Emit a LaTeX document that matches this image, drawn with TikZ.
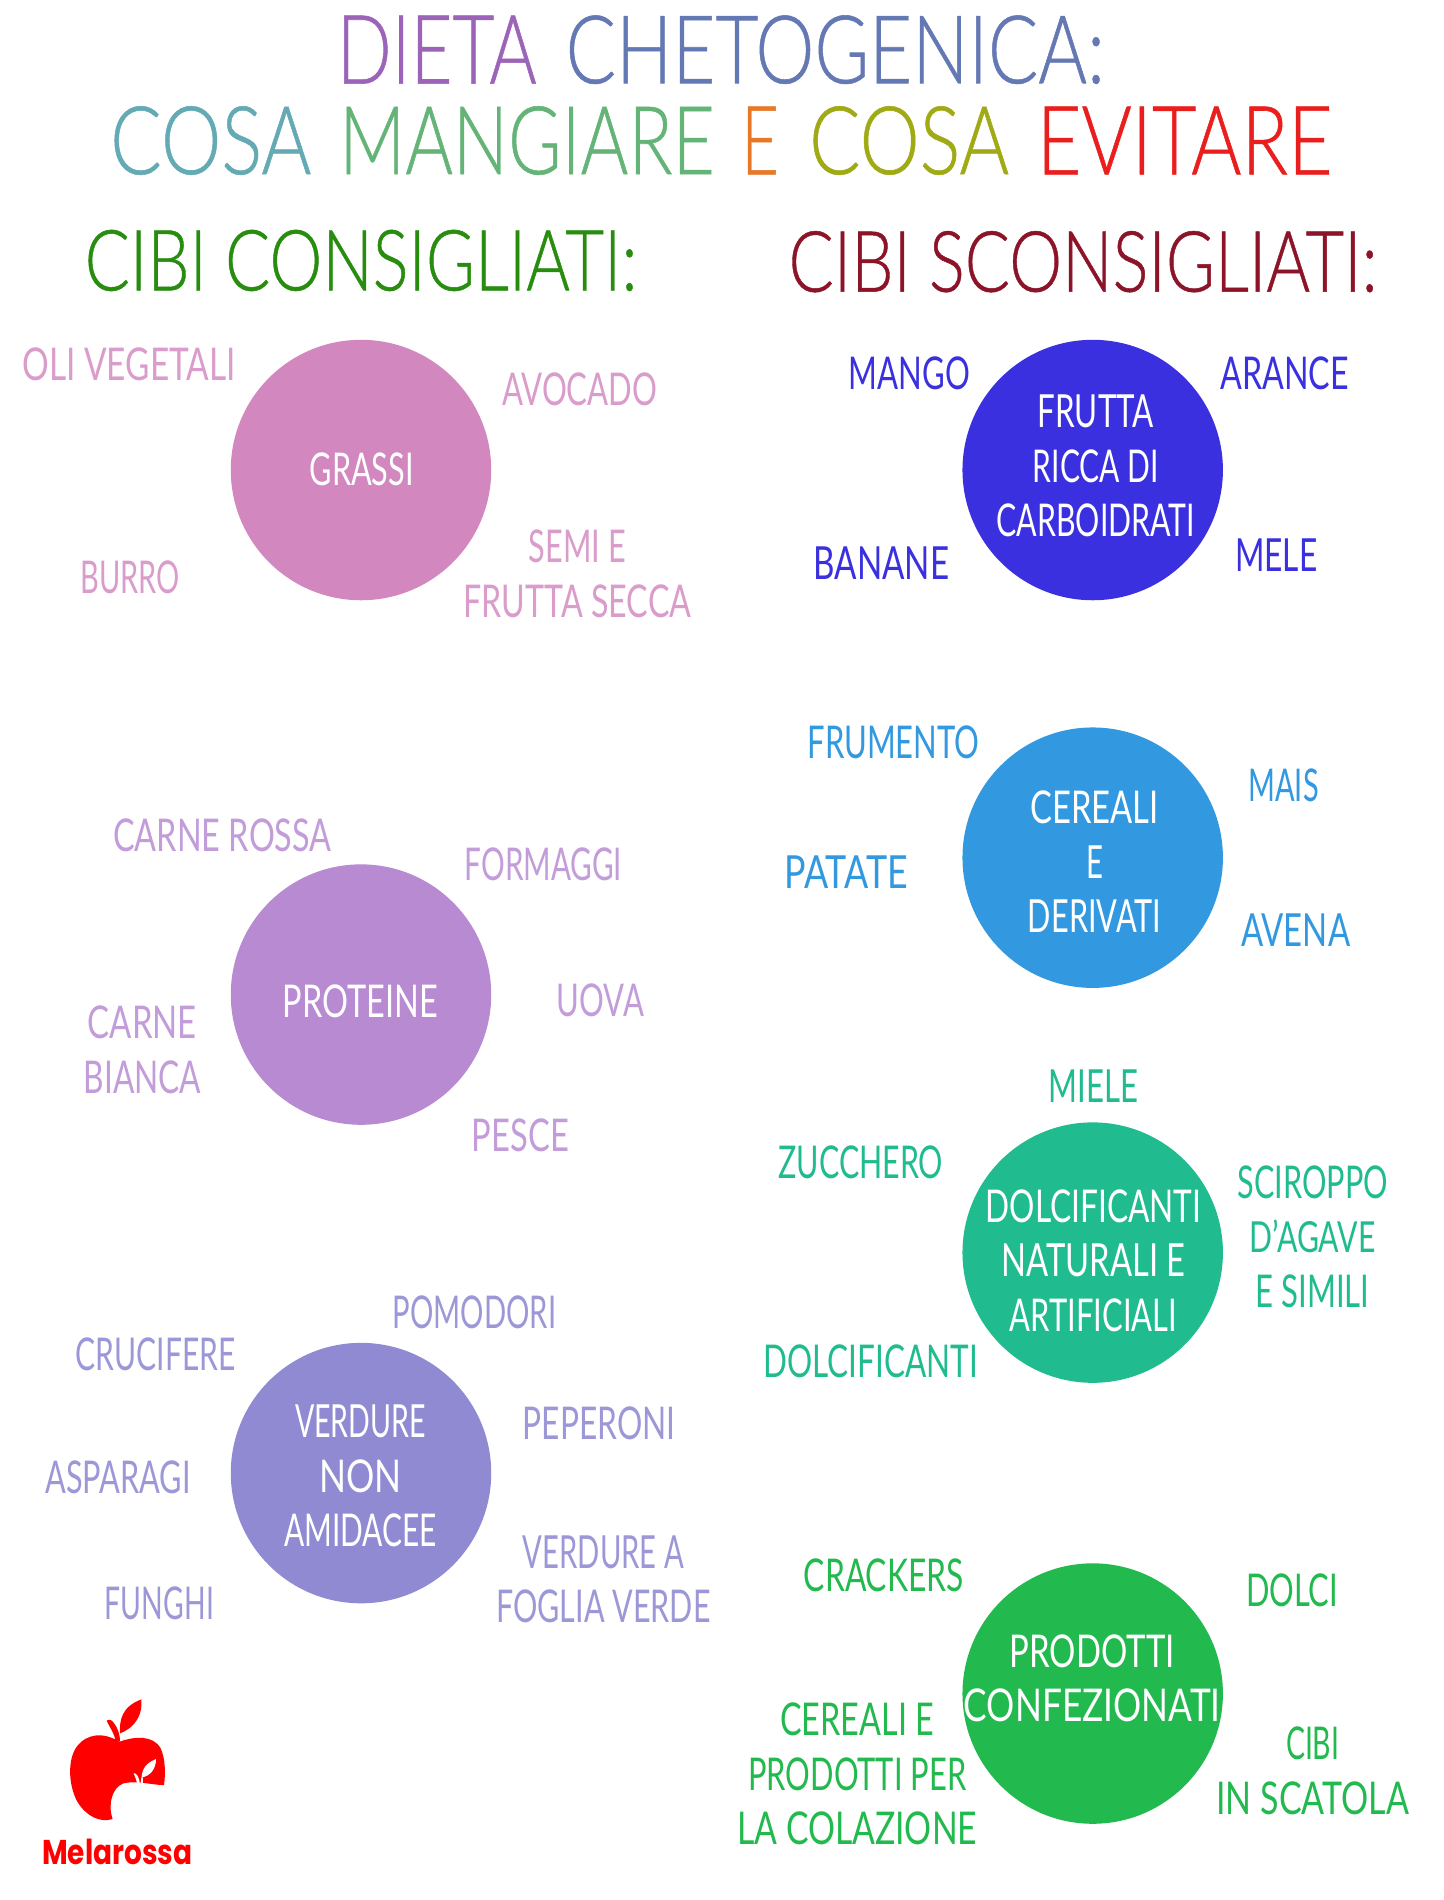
\documentclass[tikz,border=0pt]{standalone}
\usepackage{fontspec}
\usepackage{graphicx}
\setmainfont{Lato}
\newfontfamily\titlefont{Lato Light}[FakeBold=0.6]
\newfontfamily\logofont{Poppins}
\newlength\uu
\setlength\uu{0.60570pt}
\newcommand\fitline[2]{\resizebox{#1\uu}{27\uu}{#2}}
\newcommand\fitbig[3]{\resizebox{#1\uu}{#2\uu}{\titlefont #3}}
\definecolor{cPink}{HTML}{D287BE}
\definecolor{tPink}{HTML}{DA9CCB}
\definecolor{cLilac}{HTML}{B88AD2}
\definecolor{tLilac}{HTML}{C39CDA}
\definecolor{cPeri}{HTML}{8F8AD2}
\definecolor{tPeri}{HTML}{9C98D8}
\definecolor{cBlue}{HTML}{3A30E0}
\definecolor{cSky}{HTML}{3299E0}
\definecolor{cTeal}{HTML}{20BC90}
\definecolor{cGreen}{HTML}{22B94E}
\definecolor{tDieta}{HTML}{9B64B8}
\definecolor{tChet}{HTML}{6478B4}
\definecolor{tCosa}{HTML}{64AAB4}
\definecolor{tMang}{HTML}{64B478}
\definecolor{tE}{HTML}{E67828}
\definecolor{tCosb}{HTML}{A0AA14}
\definecolor{tEvit}{HTML}{EB1E1E}
\definecolor{tCons}{HTML}{288C0F}
\definecolor{tScon}{HTML}{8C1428}
\definecolor{logored}{HTML}{FF0000}
\tikzset{
  lbl/.style={inner sep=0pt,outer sep=0pt,align=center,xshift=0.35pt,yshift=-0.35pt,font=\fontsize{14}{27.26}\selectfont},
  disc/.style={circle,inner sep=0pt,minimum size=215*\uu,fill=#1},
  ttl/.style={inner sep=0pt,outer sep=0pt},
}
\begin{document}
\begin{tikzpicture}[x=0.60570pt,y=-0.60570pt]
\useasboundingbox (0,0) rectangle (1192,1568.42);
\fill[white] (0,0) rectangle (1192,1568.42);
% titles
\node[ttl,text=tDieta] (t1a) at (360.5,41) {\fitbig{165}{56}{DIETA}};
\node[ttl,text=tChet] (t1b) at (689.5,41) {\fitbig{445}{56}{CHETOGENICA:}};
\node[ttl,text=tCosa] (t2a) at (174,116) {\fitbig{166}{56}{COSA}};
\node[ttl,text=tMang] (t2b) at (435,116) {\fitbig{310}{56}{MANGIARE}};
\node[ttl,text=tE] (t2c) at (627.5,116) {\fitbig{31}{56}{E}};
\node[ttl,text=tCosb] (t2d) at (750.5,116) {\fitbig{165}{56}{COSA}};
\node[ttl,text=tEvit] (t2e) at (978,116) {\fitbig{244}{56}{EVITARE}};
\node[ttl,text=tCons] (cons) at (298,215) {\fitbig{456}{50}{CIBI CONSIGLIATI:}};
\node[ttl,text=tScon] (scon) at (894,216) {\fitbig{486}{50}{CIBI SCONSIGLIATI:}};
% circles
\node[disc=cPink] (grassi) at (298,388) {};
\node[disc=cLilac] (proteine) at (298,821) {};
\node[disc=cPeri] (verdure) at (298,1216) {};
\node[disc=cBlue] (frutta) at (902,388) {};
\node[disc=cSky] (cereali) at (902,708) {};
\node[disc=cTeal] (dolcif) at (902,1034) {};
\node[disc=cGreen] (prodotti) at (902,1398) {};
% circle texts
\node[lbl,text=white] (tGrassi) at (298,387) {\fitline{86}{GRASSI}};
\node[lbl,text=white] (tProteine) at (297,826) {\fitline{128}{PROTEINE}};
\node[lbl,text=white] (tVerdure) at (297,1218) {\fitline{108}{VERDURE}\\\fitline{68}{NON}\\\fitline{126}{AMIDACEE}};
\node[lbl,text=white] (tFrutta) at (904,384) {\fitline{96}{FRUTTA}\\\fitline{104}{RICCA DI}\\\fitline{164}{CARBOIDRATI}};
\node[lbl,text=white] (tCereali) at (903,711) {\fitline{106}{CEREALI}\\\fitline{14}{E}\\\fitline{110}{DERIVATI}};
\node[lbl,text=white] (tDolcif) at (902,1040) {\fitline{178}{DOLCIFICANTI}\\\fitline{152}{NATURALI E}\\\fitline{138}{ARTIFICIALI}};
\node[lbl,text=white] (tProdotti) at (901,1385) {\fitline{136}{PRODOTTI}\\\fitline{212}{CONFEZIONATI}};
% grassi labels
\node[lbl,text=tPink] (oli) at (106,300) {\fitline{176}{OLI VEGETALI}};
\node[lbl,text=tPink] (avocado) at (478,321) {\fitline{128}{AVOCADO}};
\node[lbl,text=tPink] (burro) at (107,476) {\fitline{82}{BURRO}};
\node[lbl,text=tPink] (semi) at (476,473) {\fitline{80}{SEMI E}\\\fitline{188}{FRUTTA SECCA}};
% proteine labels
\node[lbl,text=tLilac] (rossa) at (183,689) {\fitline{180}{CARNE ROSSA}};
\node[lbl,text=tLilac] (formaggi) at (448,713) {\fitline{130}{FORMAGGI}};
\node[lbl,text=tLilac] (bianca) at (117,866) {\fitline{90}{CARNE}\\\fitline{97}{BIANCA}};
\node[lbl,text=tLilac] (uova) at (495,825) {\fitline{72}{UOVA}};
\node[lbl,text=tLilac] (pesce) at (429,937) {\fitline{80}{PESCE}};
% verdure labels
\node[lbl,text=tPeri] (pomodori) at (391,1083) {\fitline{135}{POMODORI}};
\node[lbl,text=tPeri] (crucifere) at (128,1117) {\fitline{132}{CRUCIFERE}};
\node[lbl,text=tPeri] (peperoni) at (494,1174) {\fitline{126}{PEPERONI}};
\node[lbl,text=tPeri] (asparagi) at (97,1219) {\fitline{120}{ASPARAGI}};
\node[lbl,text=tPeri] (foglia) at (497.5,1303) {\fitline{133}{VERDURE A}\\\fitline{177}{FOGLIA VERDE}};
\node[lbl,text=tPeri] (funghi) at (131,1323) {\fitline{90}{FUNGHI}};
% frutta labels
\node[lbl,text=cBlue] (mango) at (750,308) {\fitline{100}{MANGO}};
\node[lbl,text=cBlue] (arance) at (1060,308) {\fitline{106}{ARANCE}};
\node[lbl,text=cBlue] (banane) at (727,464) {\fitline{112}{BANANE}};
\node[lbl,text=cBlue] (mele) at (1053,458) {\fitline{68}{MELE}};
% cereali labels
\node[lbl,text=cSky] (frumento) at (737,612) {\fitline{142}{FRUMENTO}};
\node[lbl,text=cSky] (mais) at (1059,648) {\fitline{58}{MAIS}};
\node[lbl,text=cSky] (patate) at (698,719) {\fitline{102}{PATATE}};
\node[lbl,text=cSky] (avena) at (1069,767) {\fitline{90}{AVENA}};
% dolcificanti labels
\node[lbl,text=cTeal] (miele) at (902,896) {\fitline{74}{MIELE}};
\node[lbl,text=cTeal] (zucchero) at (710,959) {\fitline{136}{ZUCCHERO}};
\node[lbl,text=cTeal] (sciroppo) at (1083,1020) {\fitline{124}{SCIROPPO}\\\fitline{104}{D'AGAVE}\\\fitline{94}{E SIMILI}};
\node[lbl,text=cTeal] (dolci2) at (718,1123) {\fitline{177}{DOLCIFICANTI}};
% prodotti labels
\node[lbl,text=cGreen] (crackers) at (729,1300) {\fitline{132}{CRACKERS}};
\node[lbl,text=cGreen] (dolci) at (1066,1312) {\fitline{76}{DOLCI}};
\node[lbl,text=cGreen] (colazione) at (707,1464) {\fitline{127}{CEREALI E}\\\fitline{180}{PRODOTTI PER}\\\fitline{198}{LA COLAZIONE}};
\node[lbl,text=cGreen] (scatola) at (1083,1461) {\fitline{44}{CIBI}\\\fitline{159}{IN SCATOLA}};
% logo
\begin{scope}[shift={(16.51,1378.6)},x=0.16667pt,y=-0.16667pt]
  \fill[logored] (298,215) .. controls (345,198) and (400,195) .. (422,235)
    .. controls (436,265) and (437,310) .. (432,345)
    .. controls (395,345) and (350,330) .. (310,340)
    .. controls (278,352) and (262,400) .. (278,447)
    .. controls (240,458) and (200,440) .. (172,395)
    .. controls (145,345) and (142,270) .. (170,230)
    .. controls (200,190) and (250,185) .. (298,215) -- cycle;
  \fill[logored] (286,215) .. controls (285,190) and (270,175) .. (260,152)
    .. controls (268,146) and (276,150) .. (281,158)
    .. controls (292,172) and (300,190) .. (300,215) -- cycle;
  \fill[logored] (300,190) .. controls (298,150) and (305,110) .. (364,88)
    .. controls (368,130) and (350,170) .. (300,190) -- cycle;
  \fill[white] (365,322) .. controls (366,295) and (380,278) .. (408,267)
    .. controls (408,295) and (392,318) .. (365,322) -- cycle;
  \fill[white] (352,345) .. controls (350,330) and (345,320) .. (341,310)
    .. controls (348,305) and (360,325) .. (360,345) -- cycle;
  \fill[white] (362,345) -- (364,322) -- (369,322) -- (368,345) -- cycle;
\end{scope}
\node[ttl,text=logored] (logo) at (96.9,1529) {\resizebox{124\uu}{21\uu}{\logofont\bfseries Melarossa}};
\end{tikzpicture}
\end{document}
